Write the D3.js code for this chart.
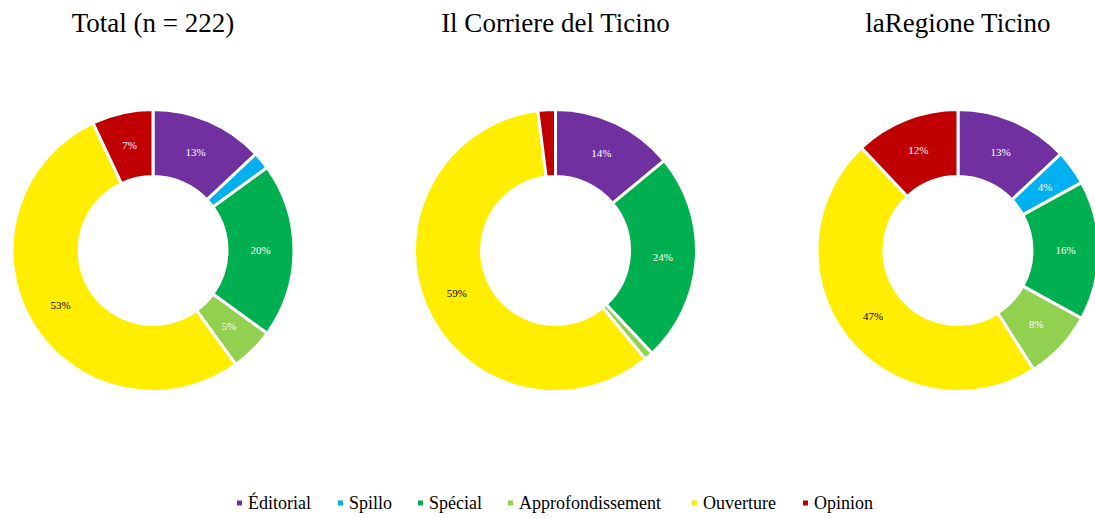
<!DOCTYPE html>
<meta charset="utf-8">
<style>
body { margin: 0; background: #fff; }
svg text { font-family: "Liberation Serif", "Times New Roman", serif; }
</style>
<svg width="1095" height="518"></svg>
<script src="https://d3js.org/d3.v7.min.js"></script>
<script>
// categories and colours
var categories = ["Éditorial", "Spillo", "Spécial", "Approfondissement", "Ouverture", "Opinion"]
var colours = ["#7030A0", "#00B0F0", "#00B050", "#92D050", "#FFEE00", "#C00000"]

// shares in percent, one list per chart
var totalValues    = [13, 2, 20, 5, 53, 7]
var corriereValues = [14, 0, 24, 1, 59, 2]
var regioneValues  = [13, 4, 16, 8, 47, 12]

var titles = ["Total (n = 222)", "Il Corriere del Ticino", "laRegione Ticino"]
var series = [totalValues, corriereValues, regioneValues]

const svg = d3.select('svg')

const colour = d3.scaleOrdinal().domain(categories).range(colours)
const centres = d3.scalePoint().domain(titles).range([153, 958])

const outerR = 141, innerR = 74
const pie = d3.pie().sort(null).value(d => d.value)
const arc = d3.arc().innerRadius(innerR).outerRadius(outerR)
const labelArc = d3.arc().innerRadius((innerR + outerR) / 2).outerRadius((innerR + outerR) / 2)

series.forEach(function (values, i) {
  const cx = centres(titles[i])
  const data = categories.map((c, j) => ({ cat: c, value: values[j] }))

  svg.append('text')
    .attr('x', cx)
    .attr('y', 32)
    .attr('text-anchor', 'middle')
    .attr('font-size', 27)
    .attr('fill', '#000')
    .text(titles[i])

  const g = svg.append('g').attr('transform', 'translate(' + cx + ',250.5)')

  const slices = pie(data).filter(d => d.data.value > 0)

  g.selectAll('path')
    .data(slices)
    .enter().append('path')
    .attr('d', arc)
    .attr('fill', d => colour(d.data.cat))
    .attr('stroke', '#fff')
    .attr('stroke-width', 3)

  // tiny slices carry no label
  g.selectAll('text')
    .data(slices.filter(d => d.data.value >= 3))
    .enter().append('text')
    .attr('transform', d => 'translate(' + labelArc.centroid(d) + ')')
    .attr('text-anchor', 'middle')
    .attr('dy', '0.35em')
    .attr('font-size', 11)
    .attr('fill', d => d.data.cat === 'Ouverture' ? '#000' : '#fff')
    .text(d => d.data.value + '%')
})

// legend
var legendX = [237, 338, 418, 508, 692, 803]
const legend = svg.append('g')
categories.forEach(function (c, i) {
  const item = legend.append('g').attr('transform', 'translate(' + legendX[i] + ',503)')
  item.append('rect')
    .attr('x', 0).attr('y', -2.5)
    .attr('width', 5).attr('height', 5)
    .attr('fill', colour(c))
  item.append('text')
    .attr('x', 11)
    .attr('y', 6)
    .attr('font-size', 18)
    .attr('fill', '#000')
    .text(c)
})
</script>
